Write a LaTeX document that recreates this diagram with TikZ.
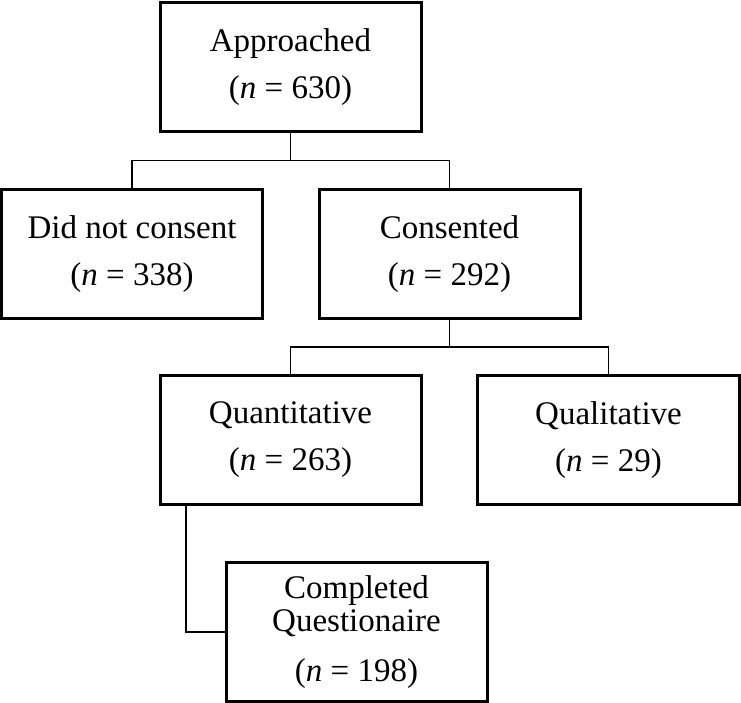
\documentclass[tikz,border=0pt]{standalone}
\usepackage{fontspec}
\setmainfont{Liberation Serif}
\usepackage{tikz}
\usetikzlibrary{positioning, calc}

\begin{document}
\begin{tikzpicture}[
  x=1pt, y=1pt,
  box/.style={draw, line width=3pt, align=center, minimum width=261pt, minimum height=129pt, inner sep=0pt},
  conn/.style={line width=1.5pt},
  every node/.style={font=\fontsize{33}{47}\selectfont}
]
\useasboundingbox (0,0) rectangle (741,-703);

\node[box] (appr) at (290.5,-67.5) {Approached\\(\textit{n} = 630)};

\node[box] (nocons) at (132,-254) {Did not consent\\(\textit{n} = 338)};
\node[box] (cons) at (449.5,-254) {Consented\\(\textit{n} = 292)};

\node[box] (quant) at (290.5,-440) {Quantitative\\(\textit{n} = 263)};
\node[box, minimum width=262pt, right=53.5pt of quant] (qual) {Qualitative\\(\textit{n} = 29)};

\node[box, minimum height=139pt] (compl) at (356.5,-632) {Completed\\[-14pt]Questionaire\\[3pt](\textit{n} = 198)};

% split lines
\draw[conn] (appr.south) -- ++(0,-27) -| (nocons.north);
\draw[conn] (appr.south) -- ++(0,-27) -| (cons.north);

\draw[conn] (cons.south) -- ++(0,-27) -| (quant.north);
\draw[conn] (cons.south) -- ++(0,-27) -| (qual.north);

\draw[conn] ([xshift=27.5pt]quant.south west) |- (compl.west);

\end{tikzpicture}
\end{document}
